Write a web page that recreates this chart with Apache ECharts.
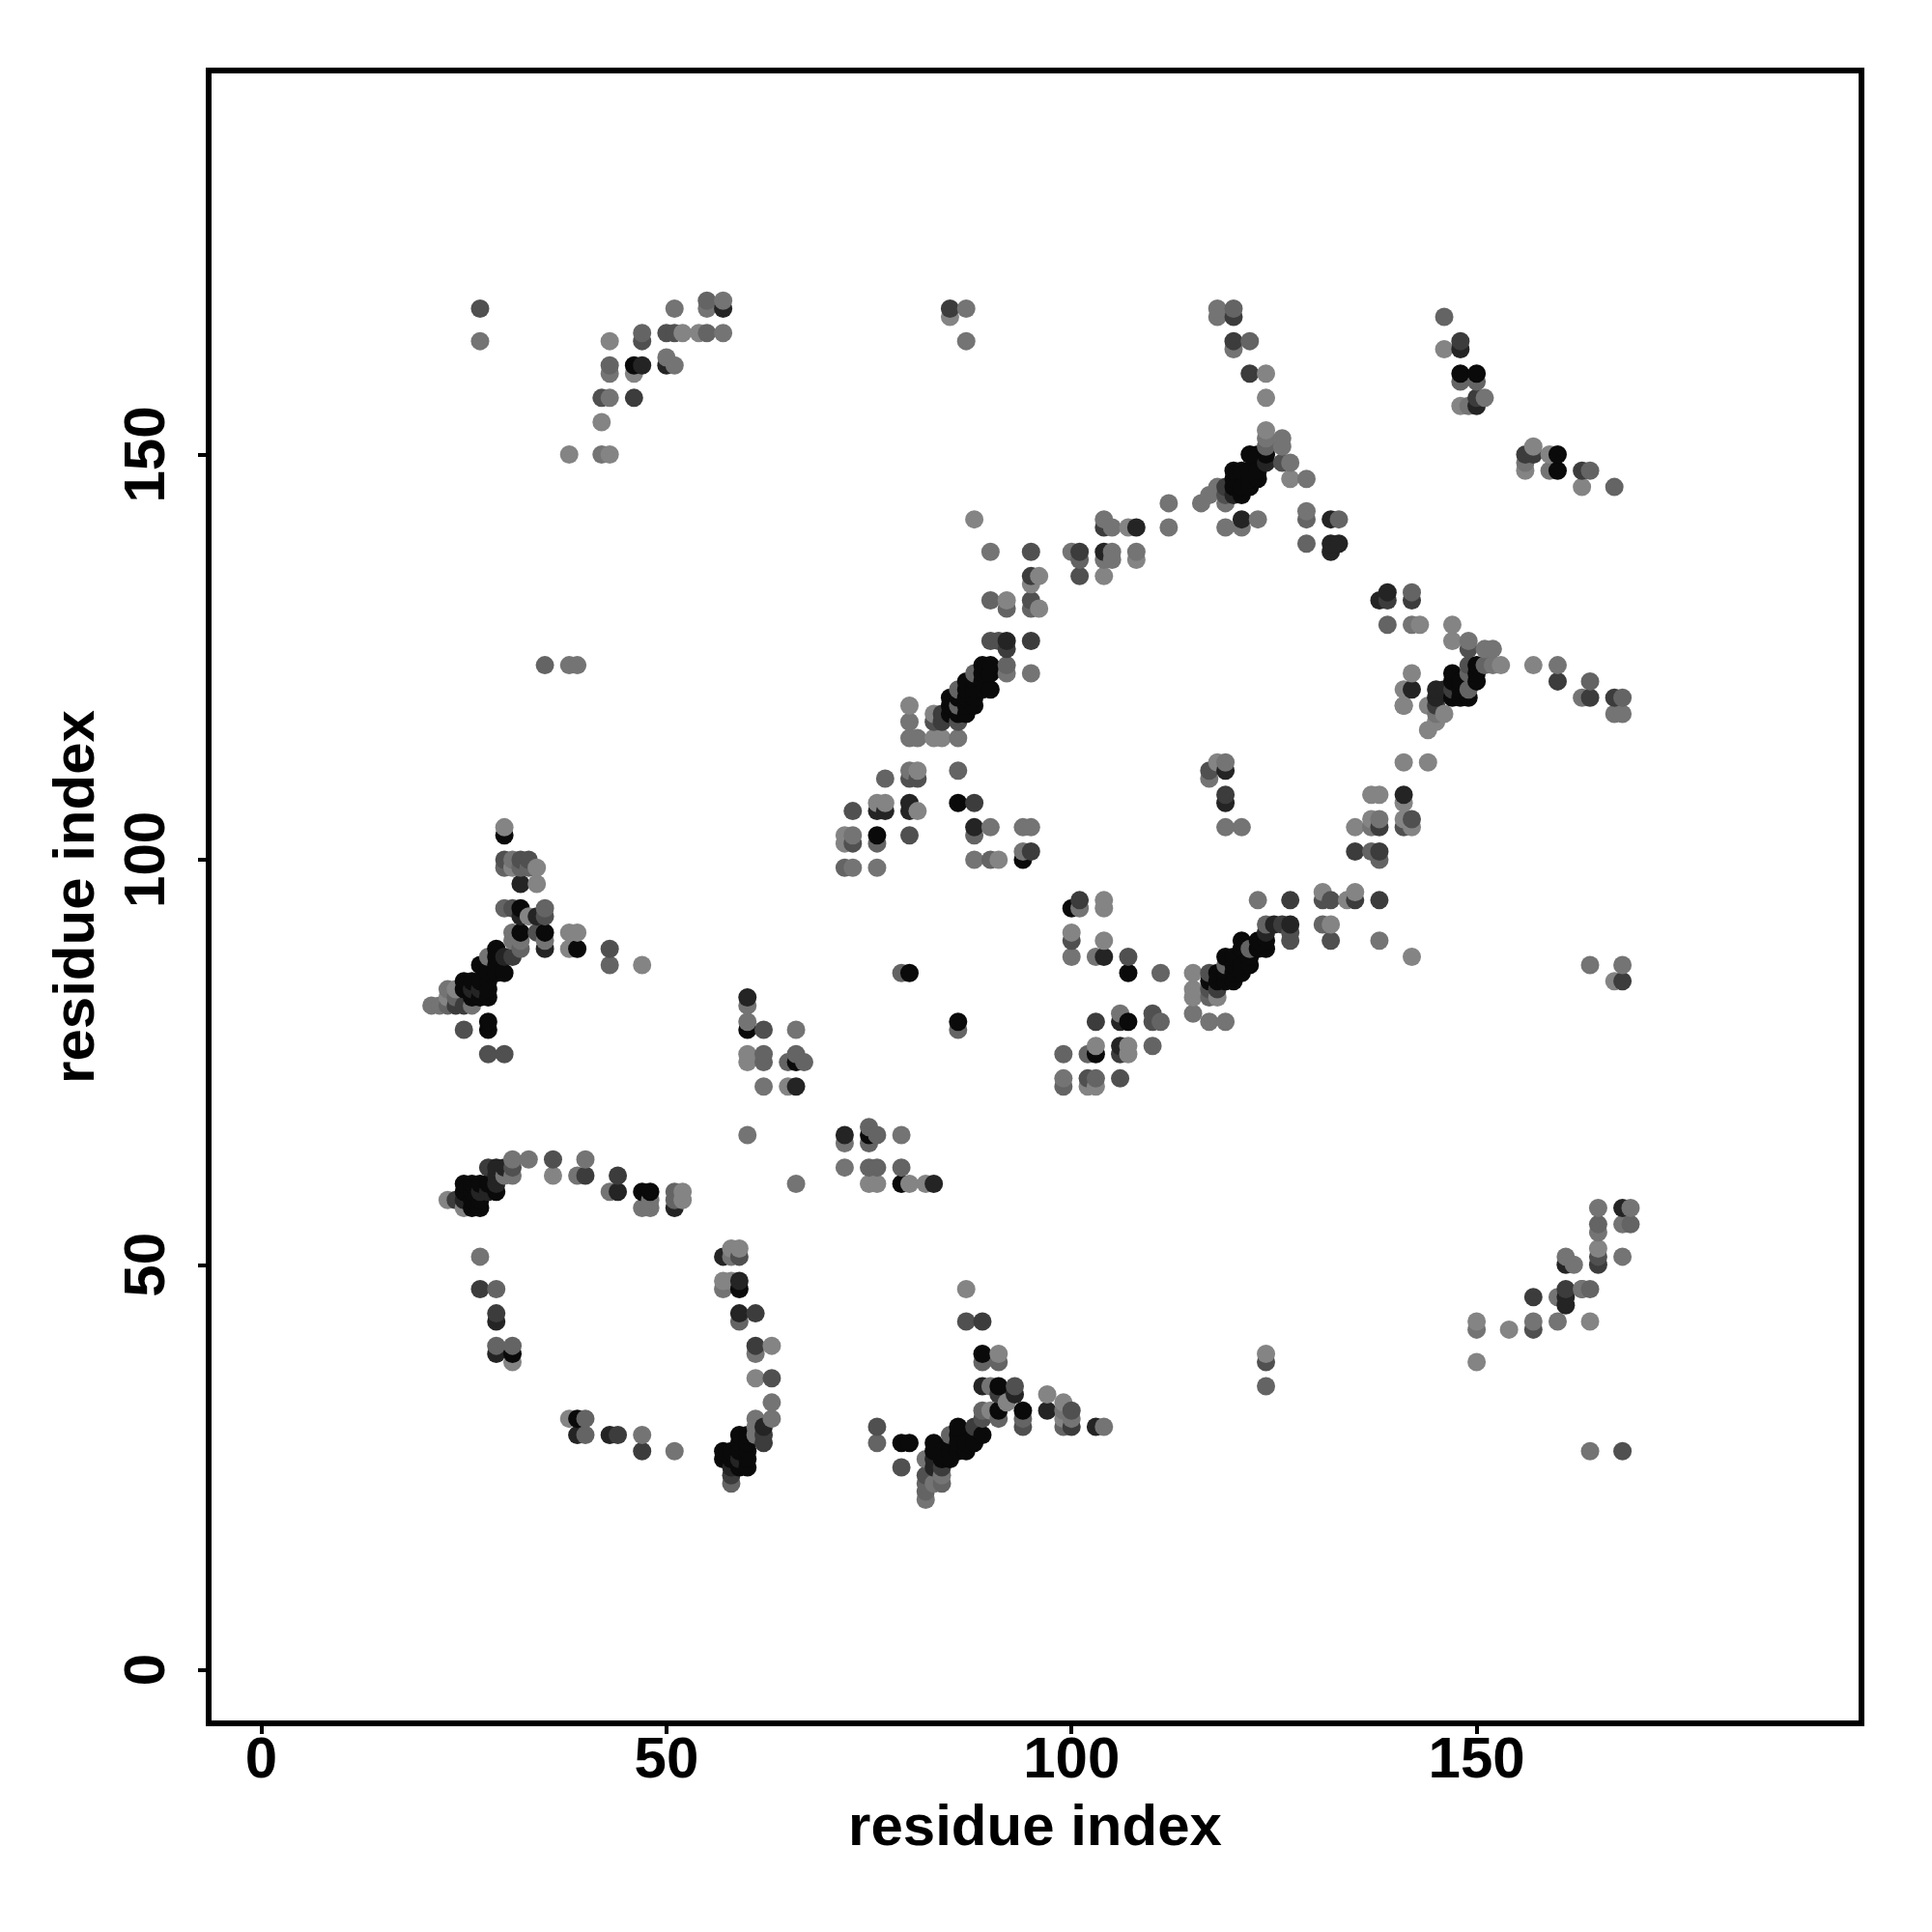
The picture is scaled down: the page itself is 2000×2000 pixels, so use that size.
<!DOCTYPE html>
<html><head><meta charset="utf-8">
<style>html,body{margin:0;padding:0;background:#fff}#c{width:2000px;height:2000px}</style>
<script src="https://cdn.jsdelivr.net/npm/echarts@6/dist/echarts.min.js"></script>
</head><body><div id="c"></div>
<script>
const tickValues=[0,50,100,150];
const axisTitle="residue index";
// contacts [i,j] grouped by the grey level
const shadeA=[[46,161],[122,150],[123,150],[124,150],[120,148],[121,148],[122,148],[123,148],[123,147],[122,147],[120,147],[121,146],[122,146],[121,145],[120,146],
[89,124],[90,124],[89,123],[90,123],[90,121],[87,122],[88,122],[87,121],[88,121],[89,121],[89,122],[87,119],[88,119],[85,120],[86,120],[85,119],[86,118],[87,120],[88,120],[86,119],[85,118],[87,118],
[148,160],[150,160],[160,150],[160,148],[147,123],[147,122],[148,120],[147,120],[150,124],[150,122],[150,123],[148,122],[148,121],[149,120],
[30,103],[32,94],[32,91],[35,91],[39,89],[29,89],[27,87],[28,87],[30,86],[25,85],[25,84],[26,83],[27,83],[28,83],[26,85],[27,85],[28,85],[29,88],[28,86],[29,87],[28,84],[29,86],[28,80],[28,79],
[25,60],[25,59],[26,57],[27,57],[26,59],[27,60],[29,59],[26,58],[27,58],[26,60],[28,60],[47,59],[48,59],[60,79],[66,75],[86,107],[76,103],[94,100],[100,94],[107,86],
[118,85],[119,88],[119,86],[120,85],[121,90],[120,88],[121,87],[122,87],[123,90],[124,89],[117,85],[118,86],[122,88],[123,89],[124,90],[121,89],[120,86],[119,85],[120,87],[121,86],
[80,86],[86,80],[107,80],[103,76],[75,66],[79,60],[31,39],[39,31],[59,47],[59,29],[57,27],[59,27],[60,27],[60,25],[59,25],[57,26],[59,28],[60,28],[58,26],[58,27],[60,29],[60,26],
[89,39],[91,35],[94,32],[86,30],[89,29],[83,28],[79,28],[80,28],[87,27],[85,26],[83,27],[84,26],[85,28],[86,28],[87,28],[88,29],[84,27],[85,27],[86,27],[86,29],[88,28],[91,32]];
const shadeB=[[47,161],[50,161],[57,168],[121,142],[108,141],[104,138],[92,127],[124,149],[120,145],[145,121],[146,121],[145,120],[148,163],[150,156],[132,142],[132,139],[133,139],[132,138],[139,133],[138,132],[142,121],
[32,97],[32,93],[34,93],[35,89],[30,88],[25,58],[29,62],[29,61],[29,60],[30,62],[27,59],[28,59],[44,59],[51,57],[60,83],[66,72],[76,106],[77,106],[80,107],[80,106],[88,104],[104,88],[106,80],[106,77],[119,107],[119,111],[26,84],[27,84],[59,26],
[124,91],[125,92],[127,92],[141,108],[72,66],[83,60],[29,43],[29,39],[39,29],[43,29],[57,51],[59,48],[59,44],[62,30],[58,25],[89,35],[93,34],[97,32],[103,30],[83,26],[83,25],[161,46],[161,45],[168,57],[161,50]];
const shadeC=[[85,168],[120,167],[120,164],[122,160],[104,141],[95,135],[92,126],[95,127],[101,138],[84,118],[84,117],[119,146],[148,164],[150,157],[156,150],[157,150],[163,148],[142,132],[139,132],[160,122],[164,120],[167,120],[145,119],[147,121],
[46,157],[31,88],[24,82],[25,82],[24,58],[28,62],[40,61],[44,61],[95,101],[88,107],[101,95],[103,80],[106,76],[127,95],[119,108],[118,84],[126,92],[135,101],[138,101],[135,95],[138,95],[138,104],[161,47],
[27,47],[29,44],[44,29],[47,27],[61,40],[61,44],[62,29],[62,28],[58,24],[91,34],[100,30],[88,30],[84,25],[89,43],[157,46],[165,50],[168,85]];
const shadeD=[[27,168],[42,157],[47,164],[50,165],[51,165],[95,138],[101,135],[95,132],[90,127],[91,127],[86,117],[83,117],[119,145],[126,149],[142,105],
[30,100],[32,100],[33,100],[31,94],[35,93],[34,91],[43,89],[25,79],[28,76],[30,76],[31,62],[36,63],[62,79],[73,102],[73,106],[80,110],[81,110],[80,103],[107,88],[100,90],[110,81],[110,80],[102,73],[106,73],[117,111],[117,86],[117,84],[127,90],[127,91],[132,90],[131,95],[132,95],[141,104],[149,126],
[59,51],[63,36],[76,30],[79,25],[87,43],[93,35],[94,30],[100,32],[82,24],[124,38],[163,47],[165,51],[157,42],[168,27],[89,31],[149,124]];
const shadeE=[[35,124],[43,161],[47,165],[55,169],[55,165],[120,168],[122,164],[101,137],[90,132],[92,131],[95,131],[92,124],[124,151],[146,167],[148,159],[150,159],[164,148],[167,146],[129,142],[133,142],[129,139],[142,133],[139,129],[151,124],[149,123],[168,120],[164,122],[149,121],
[30,99],[32,99],[33,99],[30,94],[35,94],[32,89],[43,87],[23,82],[24,83],[51,59],[51,58],[62,76],[62,75],[66,76],[67,75],[65,75],[75,67],[76,66],[75,65],[75,62],[76,62],[79,62],[72,99],[76,102],[77,110],[86,111],[88,103],[90,100],[86,79],[111,86],[99,76],[102,76],[99,72],[103,73],[110,77],[111,80],[119,87],[122,89],[117,83],[124,92],[131,92],[137,101],[138,100],[86,121],[86,119],[88,123],[79,86],
[29,47],[29,40],[31,40],[40,31],[40,29],[59,43],[58,23],[89,38],[91,38],[89,32],[91,31],[94,31],[99,30],[82,23],[84,23],[82,22],[124,35],[165,55],[169,55],[164,47],[85,29],[76,28]];
const shadeF=[[27,164],[38,124],[39,124],[42,150],[43,157],[43,160],[50,162],[51,161],[51,168],[55,168],[57,165],[57,169],[87,168],[87,164],[118,168],[118,167],[120,163],[124,152],[126,152],[126,151],[127,149],[129,147],[119,144],[116,144],[117,145],[118,146],[112,144],[112,141],[105,141],[90,138],[105,138],[104,137],[105,137],[108,138],[100,138],[104,142],[121,141],[119,141],[123,142],[92,123],[95,123],[80,117],[80,115],[81,115],[86,115],
[149,127],[151,126],[152,126],[152,124],[160,124],[163,120],[167,118],[168,118],[151,157],[149,156],[156,149],[159,148],[129,143],[142,129],[141,119],[145,118],
[31,100],[31,91],[35,90],[32,90],[31,90],[21,82],[22,82],[23,84],[26,82],[28,88],[31,61],[30,61],[31,63],[33,63],[39,61],[40,63],[43,59],[47,57],[48,57],[48,58],[60,82],[60,80],[62,72],[66,79],[60,66],[66,60],[72,65],[72,62],[79,66],[73,103],[73,99],[76,99],[80,111],[90,104],[94,104],[95,104],[94,101],[88,100],[100,88],[103,88],[101,94],[115,81],[117,80],[119,80],[117,110],[119,112],[119,104],[121,104],[123,95],[138,90],[137,104],[138,105],
[164,87],[168,87],[27,51],[47,29],[51,27],[57,47],[58,51],[61,39],[63,33],[61,31],[61,30],[61,29],[63,31],[90,35],[100,31],[99,32],[104,30],[83,23],[84,24],[82,21],[82,26],[106,81],[99,73],[165,57],[169,57],[165,54],[168,55],[168,51],[161,51],[162,50],[163,47],[160,46],[150,42],[157,43],[160,43],[164,27]];
const shadeG=[[38,150],[43,150],[42,154],[43,164],[46,160],[52,165],[54,165],[85,167],[88,142],[107,141],[96,135],[95,134],[92,132],[96,131],[108,137],[104,135],[80,119],[83,118],[83,115],[84,115],[124,153],[124,157],[124,160],[127,147],[146,163],[148,156],[157,151],[156,148],[159,150],[163,146],[143,129],[147,129],[147,127],[144,119],[144,116],[145,117],[146,118],[153,124],[157,124],[142,123],[141,121],[141,119],
[30,104],[31,99],[34,99],[34,97],[33,93],[38,91],[39,91],[38,89],[47,87],[24,84],[23,83],[23,58],[25,57],[36,61],[52,59],[52,58],[60,76],[60,75],[65,72],[72,103],[72,102],[76,107],[77,107],[75,60],[76,60],[80,60],[82,60],[81,106],[81,111],[91,100],[104,95],[104,94],[100,91],[104,90],[103,77],[107,77],[107,76],[102,72],[103,72],[115,86],[115,84],[115,83],[118,83],[118,112],[131,96],[135,96],[134,95],[132,92],[142,88],
[137,108],[138,108],[141,112],[144,112],[141,107],[135,104],[137,105],[141,105],[142,104],[167,85],[31,38],[38,31],[58,52],[59,52],[57,48],[58,48],[61,36],[63,40],[87,47],[91,39],[97,34],[99,33],[99,31],[90,32],[92,33],[124,39],[165,52],[154,42],[150,43],[150,38],[164,43]];
const shadeNames=[shadeA,shadeB,shadeC,shadeD,shadeE,shadeF,shadeG];
const greys=["#0a0a0a","#242424","#3c3c3c","#505050","#646464","#747474","#848484"];

const rows=[];
shadeNames.forEach((list,k)=>list.forEach(p=>rows.push({value:p,itemStyle:{color:greys[k],opacity:1}})));
rows.sort((a,b)=>a.value[0]-b.value[0]||a.value[1]-b.value[1]);

const font={fontFamily:"Liberation Sans",fontWeight:"bold",fontSize:60,color:"#000"};
const axisLine={show:true,onZero:false,lineStyle:{color:"#000",width:6}};
const chart=echarts.init(document.getElementById("c"),null,{renderer:"canvas"});
chart.setOption({
  animation:false,backgroundColor:"#fff",
  grid:{left:216,top:73,width:1711,height:1711,show:true,borderColor:"#000",borderWidth:6,backgroundColor:"#fff"},
  xAxis:{type:"value",min:-6.5,max:197.5,scale:true,splitLine:{show:false},
    axisLine,
    axisTick:{show:true,length:11,lineStyle:{color:"#000",width:4},customValues:tickValues},
    axisLabel:{...font,margin:9,customValues:tickValues,formatter:v=>String(v)},
    name:axisTitle,nameLocation:"middle",nameGap:79,nameTextStyle:font},
  yAxis:{type:"value",min:-6.6,max:197.4,scale:true,splitLine:{show:false},
    axisLine,
    axisTick:{show:true,length:11,lineStyle:{color:"#000",width:4},customValues:tickValues},
    axisLabel:{...font,margin:33,rotate:90,customValues:tickValues,formatter:v=>String(v)},
    name:axisTitle,nameLocation:"middle",nameRotate:90,nameGap:106,nameTextStyle:font},
  series:[{type:"scatter",symbol:"circle",symbolSize:19,itemStyle:{opacity:1},data:rows,z:5}]
});
</script></body></html>
